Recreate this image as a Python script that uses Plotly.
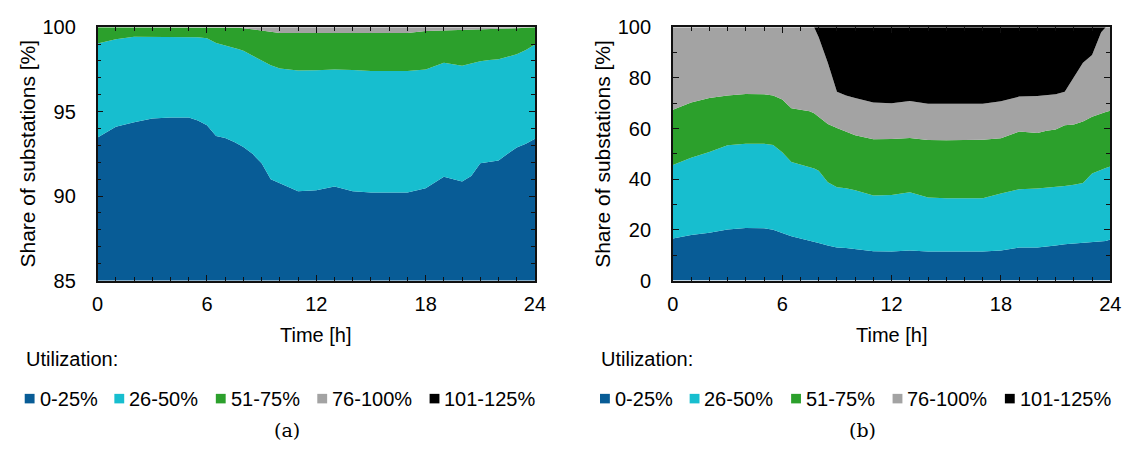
import plotly.graph_objects as go
from plotly.subplots import make_subplots

# Time of day [h]
hours = [0, 1, 2, 3, 4, 5, 5.5, 6, 6.5, 7, 7.5, 7.75, 8, 8.5, 9, 9.5, 10, 11, 12,
         13, 14, 15, 16, 17, 18, 19, 20, 20.5, 21, 21.5, 22, 22.5, 23, 23.5, 23.75, 24]

categories = ["0-25%", "26-50%", "51-75%", "76-100%", "101-125%"]
colors = ["#085C96", "#17BECF", "#2CA02C", "#A3A3A3", "#000000"]

# (a) share of substations per utilization band [%]
a_0_25 = [93.47, 94.10, 94.37, 94.60, 94.66, 94.66, 94.47, 94.20, 93.55, 93.44, 93.20, 93.05,
          92.90, 92.50, 91.94, 91.00, 90.76, 90.29, 90.34, 90.56, 90.29, 90.21, 90.21, 90.21,
          90.47, 91.15, 90.87, 91.19, 91.94, 92.00, 92.10, 92.50, 92.87, 93.10, 93.25, 93.40]
a_26_50 = [5.56, 5.19, 5.07, 4.84, 4.78, 4.78, 4.93, 5.14, 5.51, 5.47, 5.58, 5.65,
           5.70, 5.80, 6.09, 6.75, 6.80, 7.14, 7.11, 6.94, 7.18, 7.20, 7.20, 7.20,
           7.03, 6.75, 6.84, 6.66, 6.05, 6.05, 6.00, 5.75, 5.53, 5.55, 5.55, 5.57]
a_51_75 = [0.97, 0.71, 0.56, 0.56, 0.56, 0.56, 0.60, 0.66, 0.94, 1.09, 1.19, 1.26,
           1.34, 1.58, 1.78, 1.97, 2.10, 2.23, 2.21, 2.16, 2.19, 2.25, 2.25, 2.25,
           2.28, 1.91, 2.10, 1.97, 1.85, 1.81, 1.80, 1.67, 1.54, 1.32, 1.19, 1.03]
a_76_100 = [0, 0, 0, 0, 0, 0, 0, 0, 0, 0, 0.03, 0.04,
            0.06, 0.12, 0.19, 0.28, 0.34, 0.34, 0.34, 0.34, 0.34, 0.34, 0.34, 0.34,
            0.22, 0.19, 0.19, 0.18, 0.16, 0.14, 0.10, 0.08, 0.06, 0.03, 0.01, 0]
a_101_125 = [0] * 36

# (b) share of substations per utilization band [%]
b_0_25 = [16.6, 18.0, 18.9, 20.1, 20.7, 20.6, 20.0, 18.7, 17.5, 16.6, 15.8, 15.4,
          14.8, 13.8, 13.0, 12.8, 12.4, 11.6, 11.5, 11.9, 11.5, 11.5, 11.5, 11.5,
          11.9, 13.0, 13.0, 13.3, 13.8, 14.3, 14.6, 14.9, 15.1, 15.3, 15.6, 16.2]
b_26_50 = [29.0, 30.5, 31.8, 33.3, 33.3, 33.4, 33.5, 31.9, 29.3, 29.2, 29.0, 28.8,
           28.5, 25.0, 23.8, 23.6, 23.2, 22.0, 22.3, 22.9, 21.3, 21.0, 21.0, 21.0,
           22.5, 23.0, 23.3, 23.3, 23.1, 23.0, 23.2, 23.6, 27.1, 28.5, 28.8, 28.8]
b_51_75 = [21.8, 21.8, 21.3, 19.6, 19.6, 19.5, 19.5, 20.9, 21.2, 21.5, 22.0, 21.8,
           21.2, 23.0, 23.4, 22.4, 21.7, 22.2, 22.1, 21.5, 22.7, 22.9, 23.1, 23.1,
           21.8, 22.8, 21.9, 22.5, 22.7, 24.0, 23.8, 24.3, 22.4, 22.2, 22.1, 22.0]
b_76_100 = [32.6, 29.7, 28.0, 27.0, 26.4, 26.5, 27.0, 28.5, 32.0, 32.7, 33.2, 34.0,
            31.5, 24.2, 14.3, 14.2, 14.7, 14.5, 14.1, 14.6, 14.3, 14.4, 14.2, 14.2,
            14.6, 13.8, 14.6, 14.1, 13.9, 13.2, 18.9, 23.2, 24.4, 32.0, 33.5, 33.0]
b_101_125 = [0, 0, 0, 0, 0, 0, 0, 0, 0, 0, 0, 0,
             4.0, 14.0, 25.5, 27.0, 28.0, 29.7, 30.0, 29.1, 30.2, 30.2, 30.2, 30.2,
             29.2, 27.4, 27.2, 26.8, 26.5, 25.5, 19.5, 14.0, 11.0, 2.0, 0, 0]

panel_a = [a_0_25, a_26_50, a_51_75, a_76_100, a_101_125]
panel_b = [b_0_25, b_26_50, b_51_75, b_76_100, b_101_125]

W, H = 1140, 462
FONT = "Liberation Sans, Arial, sans-serif"
FS = 20


def px(x):
    return x / W


def py(y):
    return 1 - y / H


fig = make_subplots(rows=1, cols=2, horizontal_spacing=0.1)

for col, (panel, grp) in enumerate([(panel_a, "a"), (panel_b, "b")], start=1):
    for name, vals, c in zip(categories, panel, colors):
        fig.add_trace(
            go.Scatter(
                x=hours, y=vals, name=name, mode="lines",
                stackgroup=grp, line=dict(width=0, color=c),
                fillcolor=c, showlegend=False,
            ),
            row=1, col=col,
        )

# plot frames (pixel boxes)
left_box = (93, 537)
right_box = (677, 1121)
top_y, bot_y = 17, 283

axis_common = dict(
    showline=True, linecolor="#111111", linewidth=1.6, mirror="ticks",
    ticks="inside", ticklen=6, tickwidth=1.3, tickcolor="#111111",
    showgrid=False, zeroline=False,
    tickfont=dict(family=FONT, size=FS, color="black"),
)

fig.update_xaxes(
    range=[0, 24], tickvals=[0, 6, 12, 18, 24], ticklabelstandoff=5,
    minor=dict(dtick=1, ticks="inside", ticklen=4, tickcolor="#111111", tickwidth=1.2),
    **axis_common,
)
fig.update_xaxes(domain=[px(left_box[0]), px(left_box[1])], row=1, col=1)
fig.update_xaxes(domain=[px(right_box[0]), px(right_box[1])], row=1, col=2)

fig.update_yaxes(domain=[py(bot_y), py(top_y)], ticklabelstandoff=16, **axis_common)
fig.update_yaxes(
    range=[85, 100], tickvals=[85, 90, 95, 100],
    minor=dict(dtick=1, ticks="inside", ticklen=4, tickcolor="#111111", tickwidth=1.2),
    row=1, col=1,
)
fig.update_yaxes(
    range=[0, 100], tickvals=[0, 20, 40, 60, 80, 100],
    minor=dict(dtick=10, ticks="inside", ticklen=4, tickcolor="#111111", tickwidth=1.2),
    row=1, col=2,
)

annotations = []
shapes = []
text_font = dict(family=FONT, size=FS, color="black")
legend_starts = [19, 110, 213, 316, 430]

for off, tag in [(0, "(a)"), (584, "(b)")]:
    cx = (left_box[0] + left_box[1]) / 2 + off
    annotations.append(dict(
        x=px(cx), y=py(340), xref="paper", yref="paper", text="Time [h]",
        showarrow=False, font=text_font, xanchor="center", yanchor="middle"))
    annotations.append(dict(
        x=px(22 + off), y=py(150), xref="paper", yref="paper",
        text="Share of substations [%]", textangle=-90, showarrow=False,
        font=dict(family=FONT, size=21, color="black"),
        xanchor="center", yanchor="middle"))
    annotations.append(dict(
        x=px(18 + off), y=py(365), xref="paper", yref="paper", text="Utilization:",
        showarrow=False, font=text_font, xanchor="left", yanchor="middle"))
    for x0, name, c in zip(legend_starts, categories, colors):
        shapes.append(dict(
            type="rect", xref="paper", yref="paper",
            x0=px(x0 + off), x1=px(x0 + off + 10), y0=py(412), y1=py(402),
            fillcolor=c, line=dict(width=0)))
        annotations.append(dict(
            x=px(x0 + off + 13), y=py(407), xref="paper", yref="paper", text=name,
            showarrow=False, font=text_font, xanchor="left", yanchor="middle"))
    annotations.append(dict(
        x=px(285 + off), y=py(440), xref="paper", yref="paper", text=tag,
        showarrow=False, font=dict(family="DejaVu Serif, serif", size=19, color="black"),
        xanchor="center", yanchor="middle"))

fig.update_layout(
    width=W, height=H, margin=dict(l=0, r=0, t=0, b=0),
    paper_bgcolor="white", plot_bgcolor="white",
    annotations=annotations, shapes=shapes, showlegend=False,
)

fig.write_html("out.html")
